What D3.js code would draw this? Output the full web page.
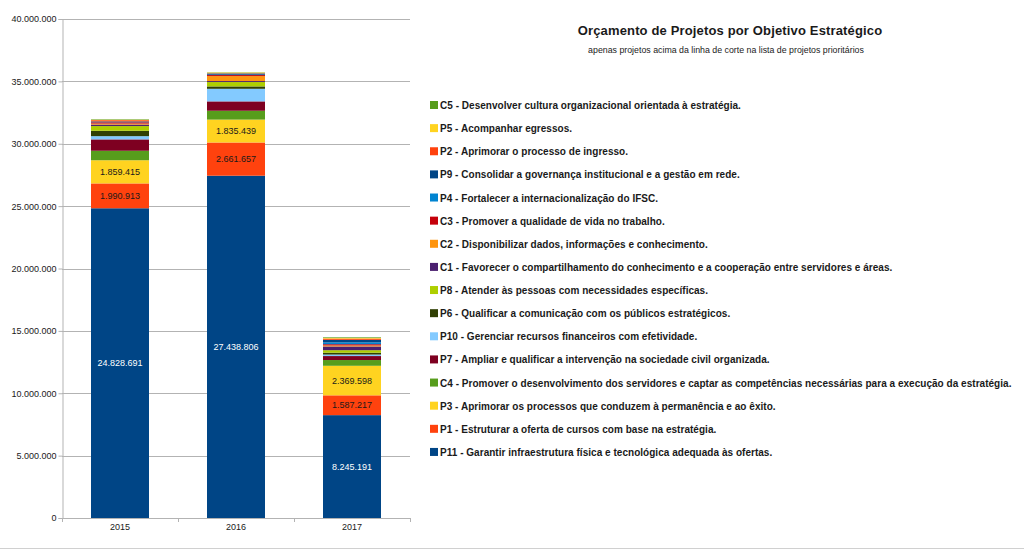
<!DOCTYPE html>
<html><head><meta charset="utf-8">
<script src="https://cdn.jsdelivr.net/npm/d3@7"></script>
<style>body{margin:0;background:#fff}svg{display:block}</style>
</head><body><svg id="c" width="1024" height="551"></svg>
<script>
const years = ["2015", "2016", "2017"];
const seriesNames = [
  "P11 - Garantir infraestrutura física e tecnológica adequada às ofertas.",
  "P1 - Estruturar a oferta de cursos com base na estratégia.",
  "P3 - Aprimorar os processos que conduzem à permanência e ao êxito.",
  "C4 - Promover o desenvolvimento dos servidores e captar as competências necessárias para a execução da estratégia.",
  "P7 - Ampliar e qualificar a intervenção na sociedade civil organizada.",
  "P10 - Gerenciar recursos financeiros com efetividade.",
  "P6 - Qualificar a comunicação com os públicos estratégicos.",
  "P8 - Atender às pessoas com necessidades específicas.",
  "C1 - Favorecer o compartilhamento do conhecimento e a cooperação entre servidores e áreas.",
  "C2 - Disponibilizar dados, informações e conhecimento.",
  "C3 - Promover a qualidade de vida no trabalho.",
  "P4 - Fortalecer a internacionalização do IFSC.",
  "P9 - Consolidar a governança institucional e a gestão em rede.",
  "P2 - Aprimorar o processo de ingresso.",
  "P5 - Acompanhar egressos.",
  "C5 - Desenvolver cultura organizacional orientada à estratégia."
];
// values per series, for 2015, 2016, 2017
const P11 = [24828691, 27438806, 8245191];
const P1  = [1990913, 2661657, 1587217];
const P3  = [1859415, 1835439, 2369598];
const C4  = [760000, 710000, 460000];
const P7  = [910000, 750000, 320000];
const P10 = [260000, 1010000, 120000];
const P6  = [430000, 190000, 150000];
const P8  = [380000, 350000, 200000];
const C1  = [120000, 80000, 300000];
const C2  = [80000, 400000, 80000];
const C3  = [100000, 80000, 100000];
const P4  = [20000, 30000, 150000];
const P9  = [50000, 100000, 200000];
const P2  = [100000, 20000, 100000];
const P5  = [30000, 50000, 50000];
const C5  = [40000, 20000, 50000];
const seriesValues = [P11, P1, P3, C4, P7, P10, P6, P8, C1, C2, C3, P4, P9, P2, P5, C5];
const labeledSeries = [0, 1, 2];
const yTicks = [0, 5000000, 10000000, 15000000, 20000000, 25000000, 30000000, 35000000, 40000000];
const palette = ["#004586","#ff420e","#ffd320","#579d1c","#7e0021","#83caff","#314004","#aecf00","#4b1f6f","#ff950e","#c5000b","#0084d1"];

const svg = d3.select("#c");
const fmt = v => d3.format(",")(v).replace(/,/g, ".");

const x = d3.scaleBand().domain(years).range([62, 410]).paddingInner(0.5).paddingOuter(0.25);
const y = d3.scaleLinear().domain([0, 40000000]).range([518, 19]);

// gridlines
svg.append("g").selectAll("line").data(yTicks).join("line")
  .attr("x1", 62).attr("x2", 410)
  .attr("y1", d => Math.round(y(d)) + 0.5).attr("y2", d => Math.round(y(d)) + 0.5)
  .attr("stroke", "#b3b3b3").attr("stroke-width", 1);

// stacked data
const rows = years.map((yr, i) => {
  const o = {year: yr};
  seriesValues.forEach((s, k) => o["s" + k] = s[i]);
  return o;
});
const keys = seriesValues.map((s, k) => "s" + k);
const stacked = d3.stack().keys(keys)(rows);

svg.append("g").selectAll("g").data(stacked).join("g")
  .attr("fill", (d, k) => palette[k % palette.length])
  .selectAll("rect").data(d => d).join("rect")
  .attr("x", d => x(d.data.year))
  .attr("width", x.bandwidth())
  .attr("y", d => y(d[1]))
  .attr("height", d => y(d[0]) - y(d[1]));

// labels
labeledSeries.forEach(k => {
  svg.append("g").selectAll("text").data(stacked[k]).join("text")
    .attr("x", d => x(d.data.year) + x.bandwidth() / 2)
    .attr("y", d => (y(d[0]) + y(d[1])) / 2 + 3)
    .attr("text-anchor", "middle")
    .attr("font-family", "Liberation Sans, Arial, sans-serif")
    .attr("font-size", 9)
    .attr("fill", k === 0 ? "#ffffff" : "#1a1a1a")
    .text(d => fmt(d.data["s" + k]));
});

// y axis
const yAxis = d3.axisLeft(y).tickValues(yTicks).tickSize(4).tickFormat(fmt);
const ga = svg.append("g").attr("transform", "translate(62.5,0)").call(yAxis);
ga.select(".domain").attr("stroke", "#b3b3b3");
ga.selectAll(".tick line").attr("stroke", "#b3b3b3");
ga.selectAll(".tick text").attr("font-family", "Liberation Sans, Arial, sans-serif").attr("font-size", 9).attr("fill", "#1a1a1a").attr("x", -6);

// x axis
const xAxis = d3.axisBottom(x).tickSize(0);
const gx = svg.append("g").attr("transform", "translate(0,518.5)").call(xAxis);
gx.select(".domain").attr("stroke", "#b3b3b3").attr("d", "M62,0H410");
gx.selectAll(".tick text").attr("font-family", "Liberation Sans, Arial, sans-serif").attr("font-size", 9).attr("fill", "#1a1a1a").attr("dy", "0.9em");
// boundary ticks
const bounds = [62, 178, 294, 410];
svg.append("g").selectAll("line").data(bounds).join("line")
  .attr("x1", d => d + 0.5).attr("x2", d => d + 0.5).attr("y1", 518).attr("y2", 522)
  .attr("stroke", "#b3b3b3");

// title
svg.append("text").attr("x", 730).attr("y", 35).attr("text-anchor", "middle")
  .attr("font-family", "Liberation Sans, Arial, sans-serif").attr("font-size", 13).attr("font-weight", "bold")
  .attr("letter-spacing", 0.15)
  .attr("fill", "#1a1a1a").text("Orçamento de Projetos por Objetivo Estratégico");
svg.append("text").attr("x", 726).attr("y", 53).attr("text-anchor", "middle")
  .attr("font-family", "Liberation Sans, Arial, sans-serif").attr("font-size", 8.8)
  .attr("fill", "#1a1a1a").text("apenas projetos acima da linha de corte na lista de projetos prioritários");

// legend (reverse order)
const legendItems = seriesNames.map((n, k) => ({name: n, color: palette[k % palette.length]})).reverse();
const lg = svg.append("g").selectAll("g").data(legendItems).join("g")
  .attr("transform", (d, i) => `translate(430,${105 + i * 23.13})`);
lg.append("rect").attr("x", 0).attr("y", -4).attr("width", 8).attr("height", 8).attr("fill", d => d.color);
lg.append("text").attr("x", 10).attr("y", 4)
  .attr("font-family", "Liberation Sans, Arial, sans-serif").attr("font-size", 10).attr("font-weight", "bold")
  .attr("letter-spacing", 0.03)
  .attr("fill", "#1a1a1a").text(d => d.name);

// frame lines
svg.append("line").attr("x1", 0).attr("x2", 1024).attr("y1", 548.5).attr("y2", 548.5).attr("stroke", "#d0d0d0");
</script></body></html>
